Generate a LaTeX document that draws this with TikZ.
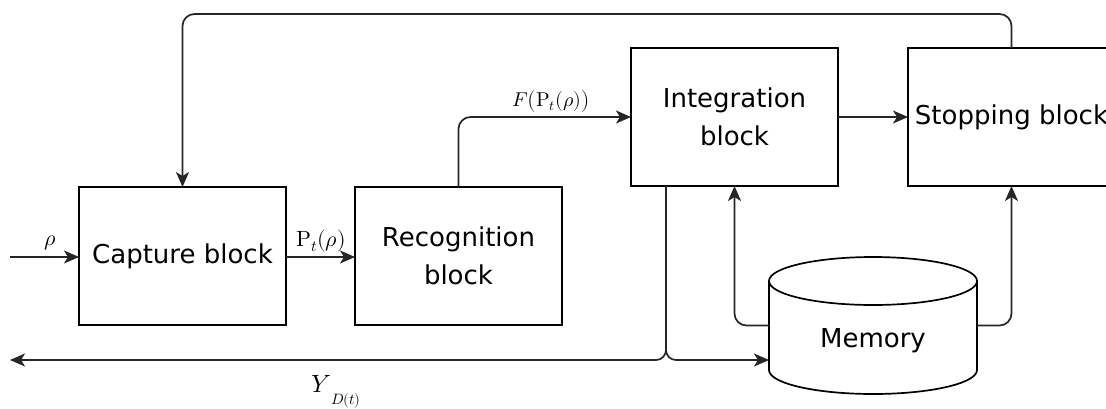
\documentclass[tikz,border=0pt]{standalone}
\usepackage{fontspec}
\usepackage{unicode-math}
\setmainfont{DejaVu Sans}
\setmathfont{Latin Modern Math}
\usetikzlibrary{arrows.meta,calc}
\newcommand{\blockfont}{\fontsize{26}{38}\selectfont}
\newcommand{\labfont}{\fontsize{22}{24}\selectfont}
\begin{document}
\begin{tikzpicture}[x=1pt,y=-1pt,
  line width=1.7pt,
  every node/.style={inner sep=0pt,outer sep=0pt},
  blk/.style={draw, minimum width=207pt, minimum height=138pt, align=center, font=\blockfont},
  arr/.style={-{Stealth[length=15pt,width=13pt,inset=4pt]}, draw=black!85},
  lbl/.style={font=\labfont}
]
\useasboundingbox (0,0) rectangle (1106,408);

% blocks
\node[blk] (cap) at (182.5,256) {Capture block};
\node[blk] (rec) at (458.5,256) {Recognition\\block};
\node[blk] (int) at (734.5,117) {Integration\\block};
\node[blk] (stop) at (1011.5,117) {Stopping block};

% memory store (cylinder)
\node[minimum width=208pt, minimum height=137pt, font=\blockfont] (mem) at (873,325.5) {};
\node[font=\blockfont] (memtxt) at (873,341) {Memory};
\draw (mem.north west) ++(0,24) arc[start angle=180, end angle=-180, x radius=104, y radius=-24];
\draw (mem.north west) ++(0,24) -- ($(mem.south west)+(0,-24)$)
      arc[start angle=180, end angle=360, x radius=104, y radius=-24]
      -- ($(mem.north east)+(0,24)$);

% free ends
\coordinate (src) at (10,257);
\coordinate (sink) at (10,360);
\coordinate (split) at (666,186);

% connectors
\draw[arr] (src) -- (src -| cap.west);
\draw[arr] (cap.east |- src) -- (rec.west |- src);
\draw[arr, rounded corners=12pt] (rec.north) |- (int.west);
\draw[arr] (int.east) -- (stop.west);
\draw[arr, rounded corners=12pt] (stop.north) -- ++(0,-34) -| (cap.north);
\draw[arr, rounded corners=12pt] (mem.west) -| (int.south);
\draw[arr, rounded corners=12pt] (mem.east) -| (stop.south);
\draw[arr, rounded corners=10pt] (split) |- (sink);
\draw[arr, rounded corners=10pt] (split) |- ($(mem.west)+(0,34.5)$);

% labels
\node[lbl] (lrho) at (50,243) {$\rho$};
\node[lbl] (lp) at (321,241) {$\symup{P}_t(\rho)$};
\node[font=\fontsize{20}{22}\selectfont] (lf) at (551,101) {$F\bigl(\symup{P}_t(\rho)\bigr)$};
\node[font=\fontsize{25}{27}\selectfont] (ly) at (321,384) {$Y$};
\node[font=\fontsize{15}{16}\selectfont] (ld) at (346,401) {$D(t)$};
\end{tikzpicture}
\end{document}
